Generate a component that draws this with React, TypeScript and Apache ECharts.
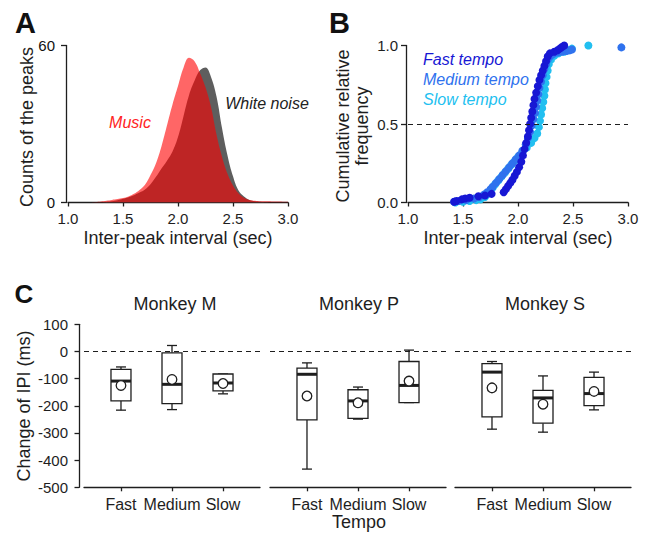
import React, { useEffect, useRef } from 'react';
import * as echarts from 'echarts';

// ---------- Panel A: distributions of inter-peak intervals ----------
const intervalGrid = [
  1.0, 1.05, 1.1, 1.15, 1.2, 1.25, 1.3, 1.35, 1.4, 1.45, 1.5, 1.55, 1.6, 1.65, 1.7, 1.75, 1.8, 1.85, 1.9, 1.95,
  2.0, 2.05, 2.1, 2.15, 2.2, 2.25, 2.3, 2.35, 2.4, 2.45, 2.5, 2.55, 2.6, 2.65, 2.7, 2.75, 2.8, 2.85, 2.9, 2.95, 3.0,
];
const musicCounts = [
  0, 0, 0, 0, 0, 0.2, 0.4, 0.7, 1.0, 1.3, 1.7, 2.3, 3.3, 4.8, 6.8, 10.5, 15, 21.5, 29.5, 37.5,
  44.5, 51.5, 55.3, 54, 49.5, 44, 36.5, 26, 17.5, 11, 6.5, 3.5, 1.8, 1.0, 0.7, 0.5, 0.45, 0.4, 0.35, 0.3, 0.25,
];
const noiseCounts = [
  0, 0, 0, 0, 0, 0, 0, 0.2, 0.5, 0.9, 1.4, 2.0, 2.8, 3.8, 5.0, 7.0, 9.8, 13, 16, 19.5,
  25, 33, 41, 46.5, 50.5, 51.6, 48, 40.5, 28.5, 18, 10, 4.6, 2.3, 1.0, 0.5, 0.3, 0.1, 0, 0, 0, 0,
];
const countTicks = [0, 60];

// ---------- Panel B: cumulative relative frequency ----------
const fastTempo: number[][] = [
  [1.42, 0.005], [1.44, 0.01], [1.49, 0.02], [1.52, 0.025], [1.56, 0.03], [1.64, 0.04], [1.7, 0.045], [1.76, 0.055],
  [1.87, 0.065], [1.89, 0.085], [1.91, 0.105], [1.93, 0.125], [1.95, 0.145], [1.97, 0.17], [1.99, 0.195], [2.01, 0.225],
  [2.03, 0.26], [2.045, 0.3], [2.06, 0.34], [2.075, 0.38], [2.09, 0.42], [2.1, 0.46], [2.11, 0.5], [2.12, 0.54],
  [2.13, 0.58], [2.14, 0.62], [2.15, 0.66], [2.165, 0.7], [2.18, 0.74], [2.195, 0.78], [2.21, 0.81], [2.225, 0.84],
  [2.24, 0.87], [2.255, 0.9], [2.27, 0.93], [2.29, 0.95], [2.33, 0.96], [2.36, 0.97], [2.38, 0.98], [2.4, 0.99], [2.42, 1.0],
];
const mediumTempo: number[][] = [
  [1.42, 0.005], [1.46, 0.01], [1.53, 0.015], [1.6, 0.025], [1.65, 0.035], [1.69, 0.05], [1.72, 0.065], [1.75, 0.085],
  [1.77, 0.1], [1.8, 0.125], [1.83, 0.15], [1.86, 0.175], [1.89, 0.2], [1.92, 0.225], [1.95, 0.25], [1.98, 0.275],
  [2.01, 0.3], [2.04, 0.33], [2.07, 0.37], [2.09, 0.41], [2.11, 0.45], [2.125, 0.49], [2.14, 0.53], [2.155, 0.57],
  [2.165, 0.61], [2.175, 0.65], [2.185, 0.69], [2.195, 0.73], [2.21, 0.77], [2.225, 0.81], [2.24, 0.85], [2.255, 0.88],
  [2.27, 0.91], [2.29, 0.93], [2.32, 0.945], [2.36, 0.955], [2.4, 0.96], [2.44, 0.965], [2.47, 0.97], [2.49, 0.975], [2.94, 0.988],
];
const slowTempo: number[][] = [
  [1.43, 0.0], [1.5, 0.005], [1.56, 0.01], [1.62, 0.015], [1.66, 0.02], [1.7, 0.035], [1.73, 0.055], [1.75, 0.075],
  [1.77, 0.095], [1.79, 0.115], [1.82, 0.14], [1.85, 0.165], [1.88, 0.19], [1.91, 0.215], [1.94, 0.24], [1.97, 0.265],
  [2.0, 0.29], [2.04, 0.32], [2.08, 0.35], [2.12, 0.38], [2.15, 0.41], [2.175, 0.44], [2.19, 0.48], [2.2, 0.52],
  [2.21, 0.56], [2.22, 0.6], [2.23, 0.64], [2.24, 0.68], [2.245, 0.72], [2.25, 0.76], [2.26, 0.8], [2.27, 0.84],
  [2.28, 0.88], [2.3, 0.91], [2.33, 0.935], [2.37, 0.95], [2.42, 0.96], [2.46, 0.97], [2.49, 0.98], [2.64, 1.0],
];

// ---------- Panel C: change of IPI (ms) box plots ----------
const tempoCategories = ['Fast', 'Medium', 'Slow'];
const monkeyNames = ['Monkey M', 'Monkey P', 'Monkey S'];
// [whisker low, Q1, median, Q3, whisker high]
const boxM = [[-216, -182, -109, -66, -57], [-214, -192, -121, -5, 22], [-156, -145, -116, -83, -83]];
const meanM = [-125, -103, -118];
const boxP = [[-433, -252, -84, -61, -42], [-249, -246, -182, -141, -131], [-188, -188, -125, -37, 5]];
const meanP = [-164, -189, -109];
const boxS = [[-286, -241, -76, -45, -37], [-297, -264, -171, -143, -90], [-215, -199, -155, -95, -76]];
const meanS = [-134, -194, -147];
const ipiTicks = { min: -500, max: 100, interval: 100 };

const FONT = '"Liberation Sans", Arial, Helvetica, sans-serif';
const INK = '#1e1e1e';

export default function App() {
  const ref = useRef<HTMLDivElement>(null);

  useEffect(() => {
    const chart = echarts.init(ref.current!, null, { renderer: 'svg' });

    const axisLine = { show: true, onZero: false, lineStyle: { color: INK, width: 1.3 } };
    const tick = (len: number) => ({ show: true, length: len, lineStyle: { color: INK, width: 1.3 } });
    const lab = (size: number, margin: number, fmt?: any) => ({
      fontSize: size, fontFamily: FONT, color: INK, margin, formatter: fmt,
      showMinLabel: true, showMaxLabel: true, hideOverlap: false,
    });
    const fix1 = (v: number) => v.toFixed(1);

    const cGridLefts = [84, 270, 455];
    const boxes = [boxM, boxP, boxS];
    const means = [meanM, meanP, meanS];

    const grids: any[] = [
      { left: 68, top: 45.5, width: 220, height: 157 },
      { left: 408, top: 45.5, width: 220, height: 157 },
      ...cGridLefts.map((l) => ({ left: l, top: 324.3, width: 176, height: 163 })),
    ];

    const xAxes: any[] = [
      { gridIndex: 0, type: 'value', min: 1, max: 3, interval: 0.5, axisLine, axisTick: tick(4), axisLabel: lab(15, 8, fix1), splitLine: { show: false } },
      { gridIndex: 1, type: 'value', min: 1, max: 3, interval: 0.5, axisLine, axisTick: tick(4), axisLabel: lab(15, 8, fix1), splitLine: { show: false } },
      ...cGridLefts.map((_, i) => ({
        gridIndex: 2 + i, type: 'value', min: 0.275, max: 3.725,
        axisLine, splitLine: { show: false },
        axisTick: { ...tick(4), customValues: [1, 2, 3] },
        axisLabel: { ...lab(16, 9, (v: number) => tempoCategories[Math.round(v) - 1]), customValues: [1, 2, 3] },
      })),
    ];

    // Panel A's y labels are drawn below as texts placed through the axis scale (convertToPixel).
    const yAxes: any[] = [
      { gridIndex: 0, type: 'value', min: 0, max: 60, interval: 60, offset: 2, axisLine, axisTick: tick(5), axisLabel: { show: false }, splitLine: { show: false } },
      { gridIndex: 1, type: 'value', min: 0, max: 1, interval: 0.5, offset: 2, axisLine, axisTick: tick(5), axisLabel: lab(15, 8, fix1), splitLine: { show: false } },
      { gridIndex: 2, type: 'value', ...ipiTicks, offset: 5, axisLine, axisTick: tick(4.5), axisLabel: lab(15, 11), splitLine: { show: false } },
      { gridIndex: 3, type: 'value', ...ipiTicks, show: false },
      { gridIndex: 4, type: 'value', ...ipiTicks, show: false },
    ];

    const dashed = (v: number) => ({
      silent: true, symbol: 'none', animation: false,
      label: { show: false },
      lineStyle: { type: [5, 4], color: INK, width: 1.2 },
      data: [{ yAxis: v }],
    });

    const boxRender = (params: any, api: any) => {
      const x = api.value(0);
      const pLow = api.coord([x, api.value(1)]);
      const pQ1 = api.coord([x, api.value(2)]);
      const pMed = api.coord([x, api.value(3)]);
      const pQ3 = api.coord([x, api.value(4)]);
      const pHigh = api.coord([x, api.value(5)]);
      const pMean = api.coord([x, api.value(6)]);
      const cx = pLow[0];
      const bw = 20;
      const cw = 10;
      const st = { stroke: INK, lineWidth: 1.3 };
      return {
        type: 'group',
        children: [
          { type: 'line', shape: { x1: cx, y1: pQ3[1], x2: cx, y2: pHigh[1] }, style: st },
          { type: 'line', shape: { x1: cx, y1: pQ1[1], x2: cx, y2: pLow[1] }, style: st },
          { type: 'line', shape: { x1: cx - cw / 2, y1: pHigh[1], x2: cx + cw / 2, y2: pHigh[1] }, style: st },
          { type: 'line', shape: { x1: cx - cw / 2, y1: pLow[1], x2: cx + cw / 2, y2: pLow[1] }, style: st },
          { type: 'rect', shape: { x: cx - bw / 2, y: pQ3[1], width: bw, height: pQ1[1] - pQ3[1] }, style: { fill: '#fff', ...st } },
          { type: 'line', shape: { x1: cx - bw / 2, y1: pMed[1], x2: cx + bw / 2, y2: pMed[1] }, style: { stroke: INK, lineWidth: 3 } },
          { type: 'circle', shape: { cx, cy: pMean[1], r: 4.8 }, style: { fill: '#fff', ...st } },
        ],
      };
    };

    const boxSeries = boxes.flatMap((b, i) => [
      {
        type: 'line', xAxisIndex: 2 + i, yAxisIndex: 2 + i, data: [], silent: true,
        markLine: dashed(0),
      },
      {
        type: 'custom', xAxisIndex: 2 + i, yAxisIndex: 2 + i, renderItem: boxRender,
        encode: { x: 0, y: [1, 2, 3, 4, 5, 6] },
        data: b.map((row, k) => [k + 1, ...row, means[i][k]]),
        z: 5,
      },
    ]);

    const scatter = (name: string, data: number[][], color: string, extra: any = {}) => ({
      name, type: 'scatter', xAxisIndex: 1, yAxisIndex: 1, data, symbolSize: 8,
      itemStyle: { color, opacity: 1 }, ...extra,
    });

    const text = (t: string, x: number, y: number, size: number, opts: any = {}) => ({
      type: 'text', x, y, rotation: opts.rotation || 0, silent: true, z: 100,
      style: {
        text: t,
        font: `${opts.style || 'normal'} ${opts.weight || 'normal'} ${size}px ${FONT}`,
        fill: opts.color || INK,
        textAlign: opts.align || 'center', align: opts.align || 'center',
        textVerticalAlign: 'middle', verticalAlign: 'middle',
        lineHeight: opts.lineHeight,
      },
    });

    const graphics: any[] = [
      text('A', 15, 22.5, 29, { weight: 'bold', align: 'left', color: '#111' }),
      text('B', 329, 22.5, 29, { weight: 'bold', align: 'left', color: '#111' }),
      text('C', 14.5, 293.5, 26, { weight: 'bold', align: 'left', color: '#111' }),
      text('Counts of the peaks', 27, 127, 18, { rotation: Math.PI / 2 }),
      text('Inter-peak interval (sec)', 178, 238, 18),
      text('Inter-peak interval (sec)', 518, 238, 18),
      text('Cumulative relative\nfrequency', 352, 126, 18, { rotation: Math.PI / 2, lineHeight: 19 }),
      text('Music', 130, 122, 16, { style: 'italic', color: '#ff2424' }),
      text('White noise', 267, 103.5, 16, { style: 'italic', color: '#222' }),
      text('Fast tempo', 423, 59.3, 16, { style: 'italic', color: '#1717d4', align: 'left' }),
      text('Medium tempo', 423, 79.3, 16, { style: 'italic', color: '#2f72ee', align: 'left' }),
      text('Slow tempo', 423, 99.3, 16, { style: 'italic', color: '#22bff0', align: 'left' }),
      text(monkeyNames[0], 175, 303.5, 18),
      text(monkeyNames[1], 359, 303.5, 18),
      text(monkeyNames[2], 545, 303.5, 18),
      text('Change of IPI (ms)', 24, 406, 18, { rotation: Math.PI / 2 }),
      text('Tempo', 359, 522, 18),
    ];

    chart.setOption({
      animation: false,
      backgroundColor: '#fff',
      grid: grids,
      xAxis: xAxes,
      yAxis: yAxes,
      series: [
        {
          name: 'White noise', type: 'line', xAxisIndex: 0, yAxisIndex: 0,
          data: intervalGrid.map((x, i) => [x, noiseCounts[i]]),
          smooth: 0.4, showSymbol: false, lineStyle: { width: 0 },
          areaStyle: { color: '#5e5e5e', opacity: 1 }, z: 2,
        },
        {
          name: 'Music', type: 'line', xAxisIndex: 0, yAxisIndex: 0,
          data: intervalGrid.map((x, i) => [x, musicCounts[i]]),
          smooth: 0.4, showSymbol: false, lineStyle: { width: 0 },
          areaStyle: { color: 'rgba(255,0,0,0.6)', opacity: 1 }, z: 3,
        },
        scatter('Slow tempo', slowTempo, '#22bff0', { markLine: dashed(0.5), z: 2 }),
        scatter('Medium tempo', mediumTempo, '#2f72ee', { z: 3 }),
        scatter('Fast tempo', fastTempo, '#1717d4', { z: 4 }),
        ...boxSeries,
      ],
      graphic: graphics,
    });

    // y tick labels of panel A, positioned through the axis scale
    const tickTexts = countTicks.map((v) => {
      const p = chart.convertToPixel({ xAxisIndex: 0, yAxisIndex: 0 }, [1, v]) as number[];
      return text(v.toString(), p[0] - 13, p[1], 15, { align: 'right', color: '#111' });
    });
    chart.setOption({ graphic: [...graphics, ...tickTexts] });

    return () => chart.dispose();
  }, []);

  return (
    <div
      ref={ref}
      style={{ position: 'absolute', left: 0, top: 0, width: 654, height: 536, background: '#fff' }}
    />
  );
}
